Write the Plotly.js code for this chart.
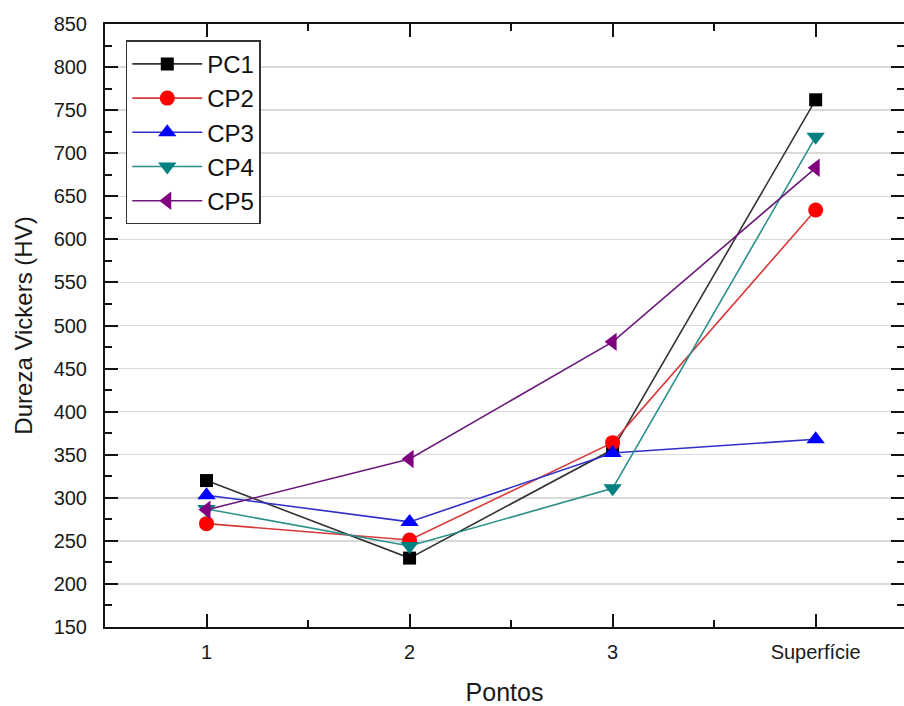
<!DOCTYPE html>
<html>
<head>
<meta charset="utf-8">
<script src="https://cdn.plot.ly/plotly-3.0.1.min.js"></script>
<style>html,body{margin:0;padding:0;background:#fff;}#chart{width:904px;height:706px;}</style>
</head>
<body>
<div id="chart"></div>
<script>
const xPositions = [1, 2, 3, 4];
const tickLabels = ['1', '2', '3', 'Superfície'];
const seriesNames = ['PC1', 'CP2', 'CP3', 'CP4', 'CP5'];
const PC1 = [320, 230, 356, 762];
const CP2 = [270, 251, 364, 634];
const CP3 = [303, 272, 352, 368];
const CP4 = [287, 244, 311, 719];
const CP5 = [286, 345, 481, 683];
const yTicks = [150, 200, 250, 300, 350, 400, 450, 500, 550, 600, 650, 700, 750, 800, 850];

const values = [PC1, CP2, CP3, CP4, CP5];
const colors = ['#000000', '#ff0000', '#0000ff', '#008080', '#800080'];
const lineColors = ['#333333', '#d63a3a', '#3030c8', '#2a8f8a', '#6b1a7a'];
const symbols = ['square', 'circle', 'triangle-up', 'triangle-down', 'triangle-left'];
const sizes = [13, 15, 16, 16, 16];

const traces = values.map((v, i) => ({
  x: xPositions, y: v, name: seriesNames[i], type: 'scatter', mode: 'lines+markers',
  line: {color: lineColors[i], width: 1.6},
  marker: {color: colors[i], symbol: symbols[i], size: sizes[i], line: {width: 0}}
}));

const font = 'Liberation Sans, Arial, Helvetica, sans-serif';
const layout = {
  width: 904, height: 706,
  margin: {l: 105, r: 0, t: 24, b: 79},
  paper_bgcolor: '#fff', plot_bgcolor: '#fff',
  font: {family: font, color: '#1a1a1a'},
  showlegend: true,
  legend: {
    x: 0.026, y: 0.973, xanchor: 'left', yanchor: 'top',
    bordercolor: '#333', borderwidth: 1.5, bgcolor: '#fff',
    itemwidth: 70,
    font: {family: font, size: 24, color: '#111'}
  },
  xaxis: {
    range: [0.5, 4.435], tickvals: xPositions, ticktext: tickLabels,
    showgrid: false, zeroline: false,
    showline: true, linecolor: '#111', linewidth: 2, mirror: 'ticks',
    ticks: 'inside', ticklen: 13, tickwidth: 2, tickcolor: '#111',
    minor: {dtick: 0.5, tick0: 0.5, ticks: 'inside', ticklen: 7, tickwidth: 2, tickcolor: '#111', showgrid: false},
    tickfont: {family: font, size: 20, color: '#1a1a1a'}, ticklabelstandoff: 6,
    title: {text: 'Pontos', font: {family: font, size: 25, color: '#1a1a1a'}, standoff: 22}
  },
  yaxis: {
    range: [150, 850], tickvals: yTicks,
    showgrid: true, gridcolor: '#d9d9d9', gridwidth: 1.5, zeroline: false,
    showline: true, linecolor: '#111', linewidth: 2, mirror: 'ticks',
    ticks: 'inside', ticklen: 13, tickwidth: 2, tickcolor: '#111',
    minor: {dtick: 25, ticks: 'inside', ticklen: 7, tickwidth: 2, tickcolor: '#111', showgrid: false},
    tickfont: {family: font, size: 20, color: '#1a1a1a'}, ticklabelstandoff: 12,
    title: {text: 'Dureza Vickers (HV)', font: {family: font, size: 24, color: '#1a1a1a'}, standoff: 14}
  }
};

Plotly.newPlot('chart', traces, layout, {displayModeBar: false, staticPlot: true});
</script>
</body>
</html>
